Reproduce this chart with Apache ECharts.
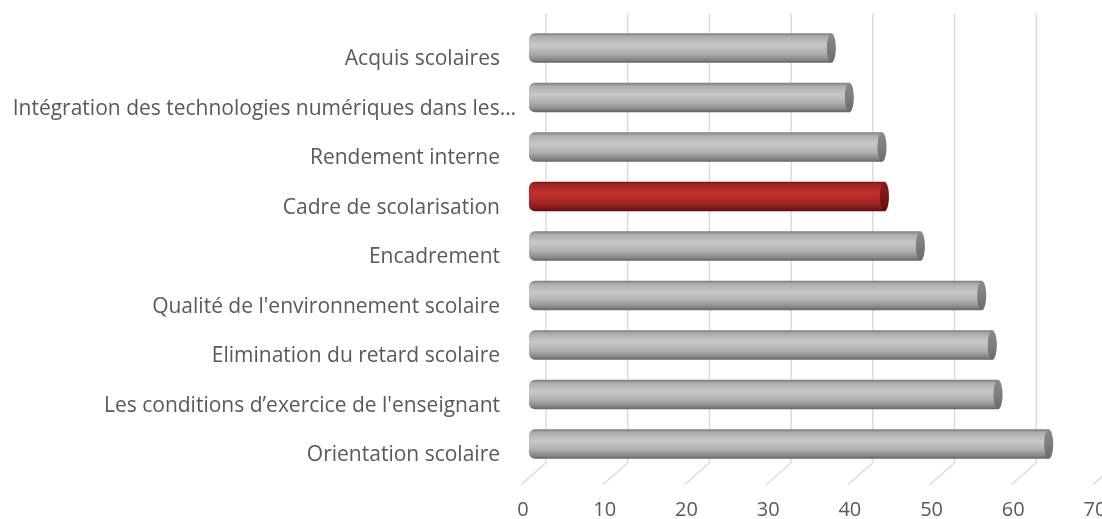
<!DOCTYPE html>
<html>
<head>
<meta charset="utf-8">
<script src="https://cdn.jsdelivr.net/npm/echarts@6/dist/echarts.min.js"></script>
<style>
  html, body { margin: 0; padding: 0; background: #fff; }
  #chart { width: 1102px; height: 519px; }
</style>
</head>
<body>
<div id="chart"></div>
<script>
// categories listed top to bottom as in the picture
const categories = [
  'Acquis scolaires',
  'Intégration des technologies numériques dans les…',
  'Rendement interne',
  'Cadre de scolarisation',
  'Encadrement',
  "Qualité de l'environnement scolaire",
  'Elimination du retard scolaire',
  "Les conditions d’exercice de l'enseignant",
  'Orientation scolaire'
];
const values = [37, 39.2, 43.2, 43.5, 47.9, 55.4, 56.7, 57.4, 63.6];
const highlighted = 'Cadre de scolarisation';
const xTicks = [0, 10, 20, 30, 40, 50, 60, 70];

const fontFamily = '"Open Sans", Lato, sans-serif';
const textColor = '#595959';
const labelSize = 21;

function grad(stops) {
  return new echarts.graphic.LinearGradient(0, 0, 0, 1,
    stops.map(s => ({ offset: s[0], color: s[1] })));
}

const grayBody = [[0, '#7c7c7c'], [0.12, '#b0aeac'], [0.4, '#cac8c6'], [0.68, '#b1afad'], [0.88, '#8a8a8a'], [1, '#626262']];
const redBody = [[0, '#7e1616'], [0.12, '#a82424'], [0.4, '#c0302e'], [0.68, '#a82626'], [0.88, '#841a1a'], [1, '#5a0e0e']];
const grayCap = [[0, '#8a8a8a'], [0.5, '#7e7e7e'], [1, '#6a6a6a']];
const redCap = [[0, '#8c1c1c'], [0.5, '#7a1616'], [1, '#5e0e0e']];

const chart = echarts.init(document.getElementById('chart'));

chart.setOption({
  backgroundColor: '#ffffff',
  animation: false,
  grid: {
    left: 529,
    right: 1,
    top: 23.25,
    bottom: 50.25,
    containLabel: false,
    outerBoundsMode: 'none'
  },
  xAxis: {
    type: 'value',
    min: 0,
    max: 70,
    interval: 10,
    axisLine: { show: false },
    axisTick: { show: false },
    splitLine: { show: false },
    axisLabel: {
      margin: 32,
      fontSize: 20,
      color: textColor,
      fontFamily: fontFamily,
      padding: [0, 12, 0, 0]
    }
  },
  yAxis: {
    type: 'category',
    inverse: true,
    data: categories,
    axisLine: { show: false },
    axisTick: { show: false },
    splitLine: { show: false },
    axisLabel: {
      margin: 13,
      fontSize: labelSize,
      color: textColor,
      fontFamily: fontFamily,
      formatter: v => (v.endsWith('…') ? '{w|' + v + '}' : '{n|' + v + '}'),
      rich: {
        n: { fontSize: labelSize, color: textColor, fontFamily: fontFamily, padding: [23, 16, 0, 0] },
        w: { fontSize: labelSize, color: textColor, fontFamily: fontFamily, padding: [23, 0, 0, 0] }
      }
    }
  },
  series: [
    {
      // back wall gridlines and floor diagonals
      type: 'custom',
      z: 1,
      silent: true,
      data: xTicks.map(t => [t, 0]),
      renderItem: function (params, api) {
        const cs = params.coordSys;
        const p = api.coord([api.value(0), 0]);
        const bx = p[0] + 17;
        const top = cs.y - 10;
        const floor = cs.y + cs.height - 6;
        const style = { stroke: '#dcdcdc', lineWidth: 1.5, fill: null };
        return {
          type: 'group',
          children: [
            { type: 'line', shape: { x1: bx, y1: top, x2: bx, y2: floor }, style: style },
            { type: 'line', shape: { x1: bx, y1: floor, x2: p[0] - 8, y2: floor + 22 }, style: style }
          ]
        };
      }
    },
    {
      type: 'custom',
      z: 2,
      data: values.map((v, i) => [v, i]),
      renderItem: function (params, api) {
        const idx = api.value(1);
        const start = api.coord([0, idx]);
        const end = api.coord([api.value(0), idx]);
        const h = api.size([0, 1])[1] * 0.6;
        const red = categories[idx] === highlighted;
        return {
          type: 'group',
          children: [
            {
              type: 'rect',
              shape: { x: start[0], y: start[1] - h / 2, width: end[0] - start[0], height: h, r: [6, 0, 0, 6] },
              style: { fill: grad(red ? redBody : grayBody) }
            },
            {
              type: 'ellipse',
              shape: { cx: end[0], cy: end[1], rx: 4.5, ry: h / 2 },
              style: { fill: grad(red ? redCap : grayCap) }
            }
          ]
        };
      }
    }
  ]
});
</script>
</body>
</html>
